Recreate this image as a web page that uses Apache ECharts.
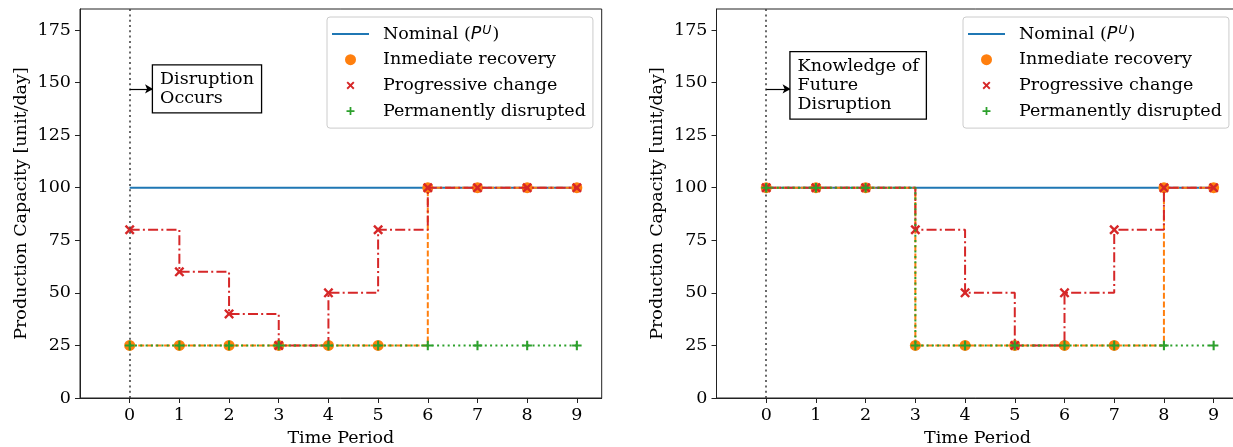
<!DOCTYPE html>
<html>
<head>
<meta charset="utf-8">
<script src="https://cdn.jsdelivr.net/npm/echarts@6/dist/echarts.min.js"></script>
<style>
html,body{margin:0;padding:0;background:#fff;}
#chart{width:1233px;height:447px;}
</style>
</head>
<body>
<div id="chart"></div>
<script>
// ---- data ----
const periods = [0, 1, 2, 3, 4, 5, 6, 7, 8, 9];
const yTicks = [0, 25, 50, 75, 100, 125, 150, 175];
const nominal = [100, 100, 100, 100, 100, 100, 100, 100, 100, 100];
// left panel: disruption occurs
const immediateL   = [25, 25, 25, 25, 25, 25, 100, 100, 100, 100];
const progressiveL = [80, 60, 40, 25, 50, 80, 100, 100, 100, 100];
const permanentL   = [25, 25, 25, 25, 25, 25, 25, 25, 25, 25];
// right panel: knowledge of future disruption
const immediateR   = [100, 100, 100, 25, 25, 25, 25, 25, 100, 100];
const progressiveR = [100, 100, 100, 80, 50, 25, 50, 80, 100, 100];
const permanentR   = [100, 100, 100, 25, 25, 25, 25, 25, 25, 25];
const names = ['Nominal (P^U)', 'Inmediate recovery', 'Progressive change', 'Permanently disrupted'];
const annotL = 'Disruption\nOccurs';
const annotR = 'Knowledge of\nFuture\nDisruption';

const FONT = 'DejaVu Serif';
const FS = 17.5;
const C = {blue: '#1f77b4', orange: '#ff7f0e', red: '#d62728', green: '#2ca02c'};
const X_PATH = 'path://M0,1.7 L1.7,0 L5,3.3 L8.3,0 L10,1.7 L6.7,5 L10,8.3 L8.3,10 L5,6.7 L1.7,10 L0,8.3 L3.3,5 Z';
const P_PATH = 'path://M3.9,0 L6.1,0 L6.1,3.9 L10,3.9 L10,6.1 L6.1,6.1 L6.1,10 L3.9,10 L3.9,6.1 L0,6.1 L0,3.9 L3.9,3.9 Z';
const X_LEG = 'path://M-1.9,-1.9 M11.9,11.9 M0,1.7 L1.7,0 L5,3.3 L8.3,0 L10,1.7 L6.7,5 L10,8.3 L8.3,10 L5,6.7 L1.7,10 L0,8.3 L3.3,5 Z';
const P_LEG = 'path://M-1.9,-1.9 M11.9,11.9 M3.9,0 L6.1,0 L6.1,3.9 L10,3.9 L10,6.1 L6.1,6.1 L6.1,10 L3.9,10 L3.9,6.1 L0,6.1 L0,3.9 L3.9,3.9 Z';
const LINE_LEG = 'path://M0,0 L37,0 L37,2 L0,2 Z';

const pairs = a => periods.map((p, i) => [p, a[i]]);

function xAxis(gi) {
  return {
    type: 'value', gridIndex: gi, min: -1, max: 9.5,
    name: 'Time Period', nameLocation: 'middle', nameGap: 29.5,
    nameTextStyle: {fontFamily: FONT, fontSize: FS, color: '#000'},
    axisLine: {show: true, onZero: false, lineStyle: {color: '#222', width: 1}},
    axisTick: {show: true, length: 5, lineStyle: {color: '#222'}, customValues: periods},
    axisLabel: {fontFamily: FONT, fontSize: FS, color: '#000', margin: 8.5, customValues: periods},
    splitLine: {show: false}
  };
}
function yAxis(gi) {
  return {
    type: 'value', gridIndex: gi, min: 0, max: 185,
    name: 'Production Capacity [unit/day]', nameLocation: 'middle', nameGap: 50,
    nameTextStyle: {fontFamily: FONT, fontSize: FS, color: '#000'},
    axisLine: {show: true, onZero: false, lineStyle: {color: '#222', width: 1}},
    axisTick: {show: true, length: 5, lineStyle: {color: '#222'}, customValues: yTicks},
    axisLabel: {fontFamily: FONT, fontSize: FS, color: '#000', margin: 9, customValues: yTicks},
    splitLine: {show: false}
  };
}
function legend(left) {
  return {
    left: left, top: 17, orient: 'vertical',
    itemWidth: 37, itemHeight: 11, itemGap: 5.7,
    padding: [7, 7, 7, 5],
    backgroundColor: 'rgba(255,255,255,0.8)', borderColor: '#ccc', borderWidth: 1, borderRadius: 3,
    formatter: function (n) { return n === names[0] ? 'Nominal ({it|P}{sup|U})' : n; },
    textStyle: {
      fontFamily: FONT, fontSize: FS, color: '#000', padding: [0, 0, 0, 9], lineHeight: 20,
      rich: {
        it: {fontFamily: 'DejaVu Sans', fontStyle: 'italic', fontSize: FS, lineHeight: 20, color: '#000'},
        sup: {fontFamily: 'DejaVu Sans', fontStyle: 'italic', fontSize: 12.5, lineHeight: 13, verticalAlign: 'top', color: '#000', padding: [0, 1, 0, 1]}
      }
    },
    selectedMode: false,
    data: [
      {name: names[0], icon: LINE_LEG},
      {name: names[1], icon: 'circle'},
      {name: names[2], icon: X_LEG},
      {name: names[3], icon: P_LEG}
    ]
  };
}
function panelSeries(gi, imm, prog, perm, annot, arrowEnd, labelOffset) {
  return [
    {
      name: names[0], type: 'line', xAxisIndex: gi, yAxisIndex: gi,
      data: pairs(nominal), symbol: 'none', showSymbol: false,
      lineStyle: {color: C.blue, width: 2}, itemStyle: {color: C.blue},
      markLine: {
        silent: true, symbol: 'none', animation: false,
        label: {show: false},
        data: [
          {xAxis: 0, lineStyle: {color: '#444', type: [2, 3.3], width: 1.6}},
          [{coord: [0, 147], symbol: 'none'}, {coord: [arrowEnd, 147], symbol: 'arrow', symbolSize: [7, 8],
            lineStyle: {color: '#000', type: 'solid', width: 1.2}}]
        ],
        lineStyle: {color: '#000', type: 'solid', width: 1.2}
      },
      markPoint: {
        silent: true, animation: false,
        data: [{coord: [arrowEnd, 147], symbol: 'rect', symbolSize: 0.01,
          label: {show: true, position: 'right', distance: 0, offset: labelOffset, formatter: annot,
            fontFamily: FONT, fontSize: FS, color: '#000', lineHeight: 19.4, align: 'left',
            backgroundColor: '#fff', borderColor: '#000', borderWidth: 1.3,
            padding: [4, 7, 4, 7]}}]
      },
      z: 2
    },
    {
      name: names[1], type: 'line', xAxisIndex: gi, yAxisIndex: gi, step: 'end',
      data: pairs(imm), symbol: 'circle', symbolSize: 11, showAllSymbol: true,
      lineStyle: {color: C.orange, width: 2, type: [6, 2.6]}, itemStyle: {color: C.orange}, z: 3
    },
    {
      name: names[2], type: 'line', xAxisIndex: gi, yAxisIndex: gi, step: 'end',
      data: pairs(prog), symbol: X_PATH, symbolSize: 10, showAllSymbol: true,
      lineStyle: {color: C.red, width: 2, type: [10, 3.2, 2, 3.2]}, itemStyle: {color: C.red}, z: 4
    },
    {
      name: names[3], type: 'line', xAxisIndex: gi, yAxisIndex: gi, step: 'end',
      data: pairs(perm), symbol: P_PATH, symbolSize: 9.5, showAllSymbol: true,
      lineStyle: {color: C.green, width: 2, type: [2, 3.3]}, itemStyle: {color: C.green}, z: 5
    }
  ];
}

const chart = echarts.init(document.getElementById('chart'), null, {renderer: 'canvas'});
chart.setOption({
  animation: false,
  backgroundColor: '#fff',
  textStyle: {fontFamily: FONT},
  grid: [
    {left: 80, right: 631.3, top: 9, bottom: 49, show: true, borderColor: '#222', borderWidth: 1, containLabel: false, outerBoundsMode: 'none'},
    {left: 716.5, right: -5.5, top: 9, bottom: 49, show: true, borderColor: '#222', borderWidth: 1, containLabel: false, outerBoundsMode: 'none'}
  ],
  xAxis: [xAxis(0), xAxis(1)],
  yAxis: [yAxis(0), yAxis(1)],
  legend: [legend(327), legend(963)],
  series: [].concat(
    panelSeries(0, immediateL, progressiveL, permanentL, annotL, 0.47, [0, 0]),
    panelSeries(1, immediateR, progressiveR, permanentR, annotR, 0.49, [0, -3.5])
  )
});
</script>
</body>
</html>
